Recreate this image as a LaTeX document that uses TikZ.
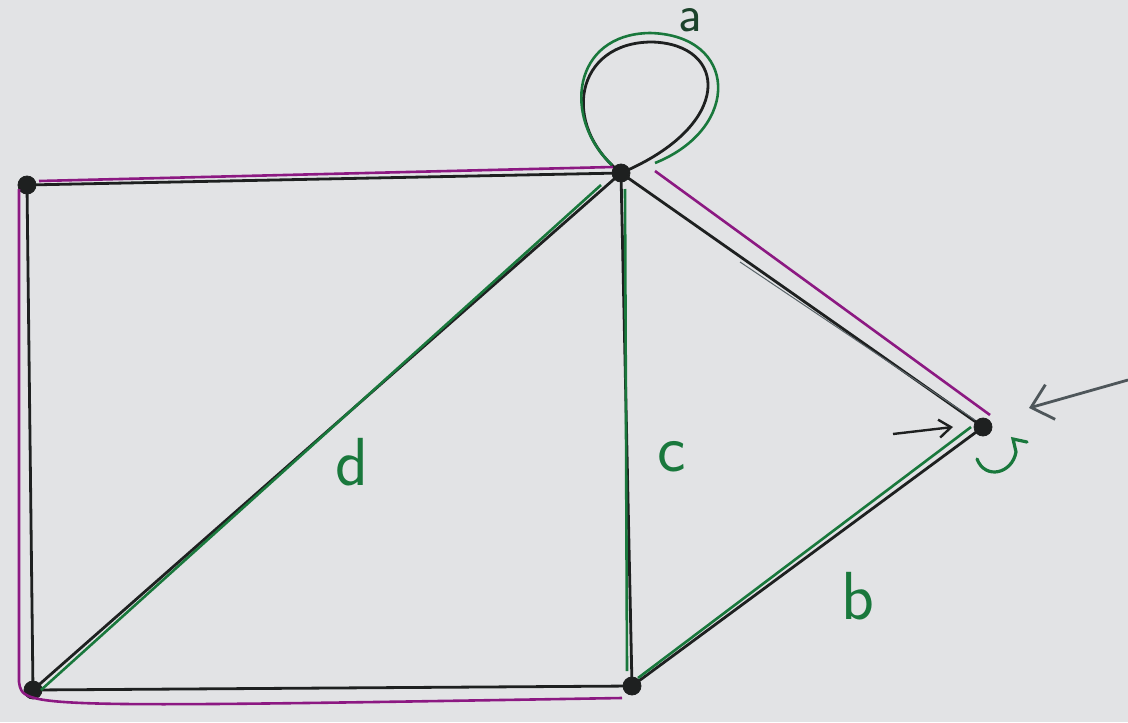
\documentclass[tikz,border=0pt]{standalone}
\usetikzlibrary{arrows.meta,calc}
\definecolor{paper}{RGB}{226,227,229}
\definecolor{ink}{RGB}{30,32,32}
\definecolor{purp}{RGB}{140,25,130}
\definecolor{grn}{RGB}{25,120,60}
\definecolor{pencil}{RGB}{90,100,105}
\tikzset{
  vtx/.style={circle,fill=ink,draw=ink,inner sep=0pt,minimum size=9pt},
  edge/.style={draw=ink,line width=1.4pt},
  purpline/.style={draw=purp,line width=1.3pt},
  grnline/.style={draw=grn,line width=1.3pt},
  lbl/.style={text=grn,font=\sffamily\fontsize{34}{34}\selectfont,inner sep=0pt},
  pointer/.style={draw=ink,line width=1.2pt,-{Straight Barb[length=6pt,width=9pt]}},
}
\begin{document}
\begin{tikzpicture}[x=0.5pt,y=-0.5pt]
\fill[paper] (0,0) rectangle (1128,722);
\useasboundingbox (0,0) rectangle (1128,722);
% vertices
\node[vtx] (tl) at (27,185) {};
\node[vtx] (tm) at (621,173) {};
\node[vtx] (r) at (983,427) {};
\node[vtx] (bm) at (632,686) {};
\node[vtx] (bl) at (33,690) {};
% black edges
\draw[edge] (tl.center) -- (tm.center);
\draw[edge] (tl.center) -- (bl.center);
\draw[edge] (bl.center) -- (bm.center);
\draw[edge] (bl.center) -- (tm.center);
\draw[edge] (tm.center) -- (bm.center);
\draw[edge] (tm.center) -- (r.center);
\draw[edge] (r.center) -- (bm.center);
\draw[edge] (tm.center) .. controls (560,125) and (575,42) .. (652,42) .. controls (728,44) and (735,125) .. (tm.center);
% purple overlays
\draw[purpline] ($(tl)+(12,-4)$) -- ($(tm)+(-8,-6)$);
\draw[purpline] ($(tl)+(-8,4)$) -- ($(bl)+(-14,-8)$) .. controls ($(bl)+(-10,18)$) .. ($(bm)+(-10,12)$);
\draw[purpline] ($(tm)+(34,-2)$) -- ($(r)+(7,-12)$);
% green overlays
\draw[grnline] ($(bl)+(8,0)$) -- ($(tm)+(-20,12)$);
\draw[grnline] ($(tm)+(4,16)$) -- ($(bm)+(-5,-15)$);
\draw[grnline] ($(bm)+(6,-8)$) -- ($(r)+(-12,0)$);
\draw[grnline] (612,165) .. controls (562,118) and (572,34) .. (650,33) .. controls (738,35) and (742,128) .. (655,163);
% faint pencil line
\draw[pencil,line width=0.5pt] (740,262) -- (975,420);
% labels
\node[lbl,text=ink!60!grn,font=\sffamily\fontsize{26}{26}\selectfont] (la) at (690,20) {a};
\node[lbl] (ld) at (352,462) {d};
\node[lbl] (lc) at (672,457) {c};
\node[lbl] (lb) at (858,596) {b};
% pointer arrows
\coordinate (p1s) at (893,434);
\coordinate (p2s) at (1128,380);
\draw[pointer] (p1s) -- ($(r)+(-30,0)$);
\draw[pointer,draw=pencil!80!ink,line width=1.4pt,-{Straight Barb[length=10pt,width=18pt]}] (p2s) -- ($(r)+(46,-19)$);
% green curl mark
\draw[grnline,line width=1.6pt,line cap=round] (1027,442) -- (1013,439) .. controls (1014,446) .. (1016,452) .. controls (1012,474) and (985,480) .. (977,459);
\end{tikzpicture}
\end{document}
